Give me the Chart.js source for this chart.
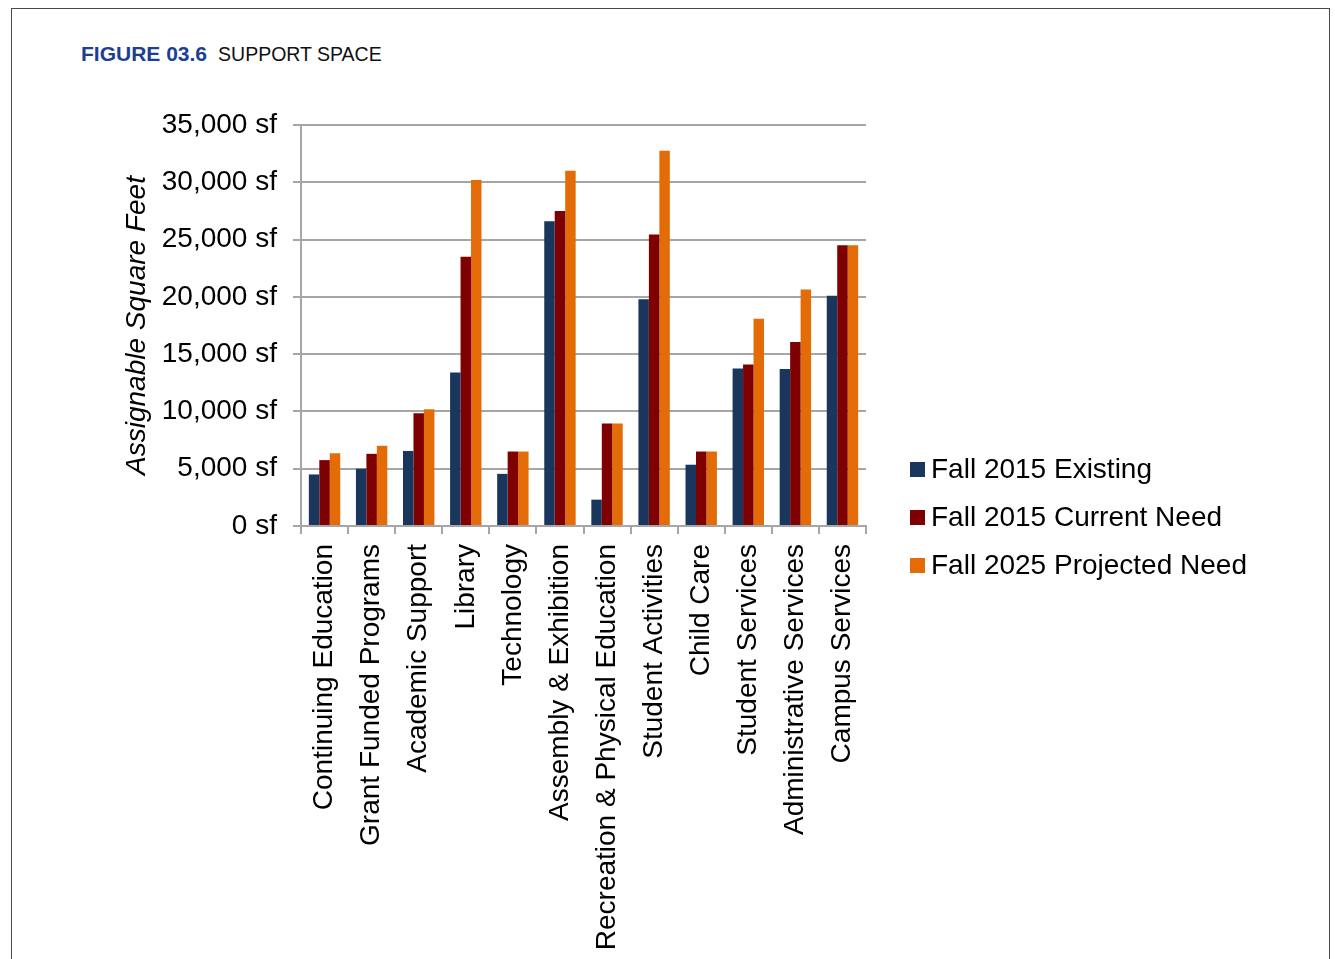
<!DOCTYPE html>
<html>
<head>
<meta charset="utf-8">
<script src="https://cdn.jsdelivr.net/npm/chart.js@4.4.1/dist/chart.umd.min.js"></script>
<style>
  html, body { margin: 0; padding: 0; background: #fff; }
  body { width: 1335px; height: 959px; position: relative; overflow: hidden; font-family: "Liberation Sans", Arial, sans-serif; }
  #frame { position: absolute; left: 11px; top: 8px; width: 1319px; height: 1000px; border: 1px solid #4a4a4a; box-sizing: border-box; }
  #title { position: absolute; left: 81px; top: 43px; font-size: 19.5px; line-height: 1; white-space: nowrap; color: #111; }
  #title b { color: #1c3f94; font-weight: bold; font-size: 21px; margin-right: 11px; }
  #chart { position: absolute; left: 0; top: 0; }
  #legend { position: absolute; left: 910px; top: 445px; }
  .lg-row { height: 48px; display: flex; align-items: center; font-size: 28px; color: #000; white-space: nowrap; }
  .lg-box { width: 15px; height: 15px; margin-right: 6px; flex: none; }
</style>
</head>
<body>
<div id="frame"></div>
<div id="title"><b>FIGURE 03.6</b>SUPPORT SPACE</div>
<canvas id="chart" width="1335" height="959"></canvas>
<div id="legend"></div>
<script>
const categories = [
  "Continuing Education", "Grant Funded Programs", "Academic Support", "Library",
  "Technology", "Assembly & Exhibition", "Recreation & Physical Education",
  "Student Activities", "Child Care", "Student Services", "Administrative Services",
  "Campus Services"
];
const seriesNames = ["Fall 2015 Existing", "Fall 2015 Current Need", "Fall 2025 Projected Need"];
const existing2015 = [4500, 5000, 6550, 13400, 4550, 26600, 2300, 19800, 5350, 13750, 13700, 20100];
const currentNeed2015 = [5750, 6300, 9850, 23500, 6500, 27500, 8950, 25450, 6500, 14100, 16050, 24500];
const projectedNeed2025 = [6350, 7000, 10200, 30200, 6500, 31000, 8950, 32750, 6500, 18100, 20650, 24500];
const seriesColors = ["#1b365d", "#7f0000", "#e36c09"];
const yTickValues = [0, 5000, 10000, 15000, 20000, 25000, 30000, 35000];
const yTickSuffix = " sf";
const yAxisTitle = "Assignable Square Feet";

const FONT = "'Liberation Sans', Arial, sans-serif";
const GRID = "#a6a6a6";

const seriesValues = [existing2015, currentNeed2015, projectedNeed2025];
const datasets = seriesNames.map((name, i) => ({
  label: name,
  data: seriesValues[i],
  backgroundColor: seriesColors[i],
  borderWidth: 0,
  categoryPercentage: 0.667,
  barPercentage: 1.0
}));

// HTML legend built from the series arrays
const legendEl = document.getElementById("legend");
seriesNames.forEach((name, i) => {
  const row = document.createElement("div");
  row.className = "lg-row";
  const box = document.createElement("span");
  box.className = "lg-box";
  box.style.background = seriesColors[i];
  const txt = document.createElement("span");
  txt.textContent = name;
  row.appendChild(box);
  row.appendChild(txt);
  legendEl.appendChild(row);
});

new Chart(document.getElementById("chart"), {
  type: "bar",
  data: { labels: categories, datasets },
  options: {
    responsive: false,
    animation: false,
    devicePixelRatio: 1,
    layout: { padding: { left: 120, top: 125, right: 469, bottom: 0 } },
    plugins: { legend: { display: false }, tooltip: { enabled: false } },
    scales: {
      x: {
        grid: { display: true, drawOnChartArea: false, drawTicks: true, tickLength: 8, color: GRID, lineWidth: 2, offset: true },
        border: { display: true, color: GRID, width: 2 },
        ticks: {
          minRotation: 90, maxRotation: 90, autoSkip: false, padding: 10,
          color: "#000", font: { family: FONT, size: 28 }
        },
        afterFit: (s) => { s.height = 433; }
      },
      y: {
        min: 0, max: 35000,
        afterBuildTicks: (s) => { s.ticks = yTickValues.map(v => ({ value: v })); },
        grid: { color: GRID, lineWidth: 2, tickLength: 8, drawTicks: true },
        border: { display: true, color: GRID, width: 2 },
        ticks: {
          padding: 16, color: "#000", font: { family: FONT, size: 28 },
          callback: (v) => Number(v).toLocaleString("en-US") + yTickSuffix
        },
        title: {
          display: true, text: yAxisTitle, color: "#000",
          font: { family: FONT, size: 28, style: "italic" },
          padding: { top: 0, bottom: 0 }
        },
        afterFit: (s) => { s.width = 181; }
      }
    }
  }
});
</script>
</body>
</html>
